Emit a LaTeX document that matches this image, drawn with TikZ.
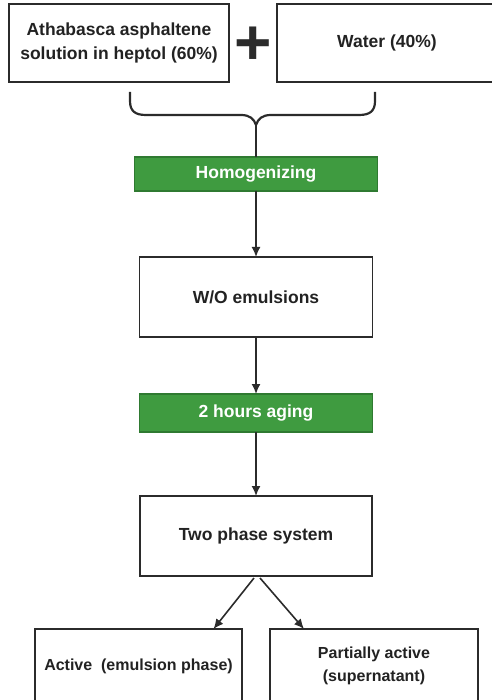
\documentclass[tikz,border=0pt]{standalone}
\usepackage{fontspec}
\setmainfont{Liberation Sans}
\usepackage{tikz}
\usetikzlibrary{positioning,arrows,arrows.meta,shapes}

\definecolor{boxgray}{HTML}{2B2B2B}
\definecolor{textgray}{HTML}{222222}
\definecolor{stepgreen}{HTML}{3F9B40}
\definecolor{greenedge}{HTML}{2F7A31}

\tikzset{
	box/.style={draw=boxgray, line width=1.6pt, fill=white, align=center, inner sep=0pt, outer sep=0pt, text=textgray, font=\fontsize{17.5}{24}\selectfont\bfseries},
	greenbox/.style={box, draw=greenedge, fill=stepgreen, text=white},
	result/.style={box, font=\fontsize{16}{23}\selectfont\bfseries},
	link/.style={-{Latex[length=10pt, width=9pt]}, line width=1.6pt, draw=boxgray},
	bracket/.style={line width=2.2pt, draw=boxgray}
}

\begin{document}
\begin{tikzpicture}[x=1pt, y=1pt]
	\useasboundingbox (0,0) rectangle (491,-700);
	
	\node(asphaltene)[box, minimum width=220pt, minimum height=78pt] at (119,-43) {Athabasca asphaltene\\solution in heptol (60\%)};
	\node(water)[box, minimum width=220pt, minimum height=78pt, right=48pt of asphaltene] {Water (40\%)};
	\node(plus)[text=boxgray, font=\fontsize{64}{64}\selectfont\bfseries] at (253,-46) {+};
	
	% curly bracket joining the two inputs
	\coordinate(tip) at (256,-125);
	\draw[bracket] (130,-92) -- (130,-101) .. controls (130,-111) and (135,-115) .. (146,-115) -- (241,-115) .. controls (250,-115) and (254,-119) .. (tip);
	\draw[bracket] (375,-92) -- (375,-101) .. controls (375,-111) and (370,-115) .. (359,-115) -- (271,-115) .. controls (262,-115) and (258,-119) .. (tip);
	
	\node(homog)[greenbox, minimum width=243pt, minimum height=34pt, below=32pt of tip] {Homogenizing};
	\node(wo)[box, minimum width=233pt, minimum height=80pt, below=66pt of homog] {W/O emulsions};
	\node(aging)[greenbox, minimum width=233pt, minimum height=38pt, below=57pt of wo] {2 hours aging};
	\node(two)[box, minimum width=232pt, minimum height=80pt, below=64pt of aging] {Two phase system};
	\node(active)[result, minimum width=207pt, minimum height=74pt, below=53pt of two, xshift=-117.5pt] {Active\ \ (emulsion phase)};
	\node(partial)[result, minimum width=208pt, minimum height=74pt, below=53pt of two, xshift=118pt] {Partially active\\(supernatant)};
	
	\draw[line width=1.6pt, draw=boxgray] (tip) -- (homog.north);
	\path (homog) edge[link] (wo);
	\path (wo) edge[link] (aging);
	\path (aging) edge[link] (two);
	\draw[link] ([xshift=-2pt, yshift=-2pt]two.south) -- ([xshift=75pt]active.north);
	\draw[link] ([xshift=4pt, yshift=-2pt]two.south) -- ([xshift=-70pt]partial.north);
\end{tikzpicture}
\end{document}
